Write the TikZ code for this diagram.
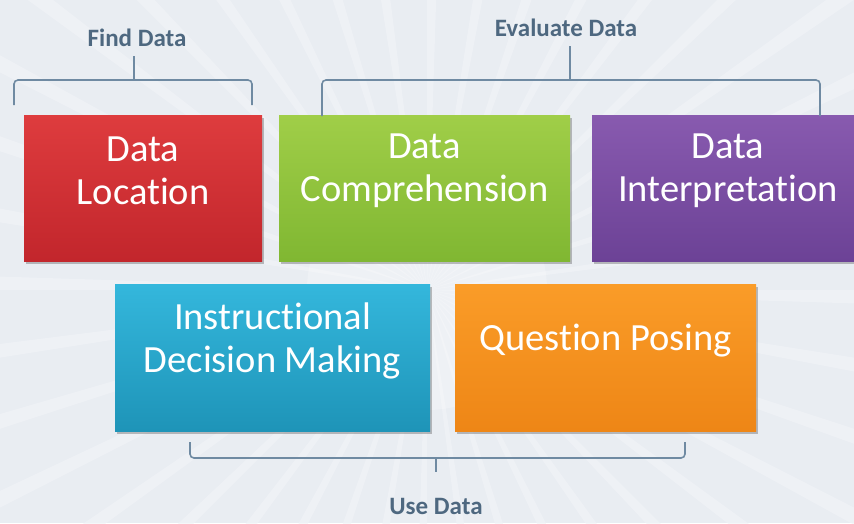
\documentclass[tikz,border=0pt]{standalone}
\usepackage{fontspec}
\setmainfont{Carlito}[Ligatures=NoCommon]
\usetikzlibrary{shadows}
\definecolor{bgc}{HTML}{E9EDF2}
\definecolor{rayc}{HTML}{F1F3F7}
\definecolor{brc}{HTML}{6F8AA2}
\definecolor{lblc}{HTML}{4E6880}
\tikzset{
  box/.style={minimum height=146pt, inner sep=0pt, draw=none,
    drop shadow={shadow xshift=2pt, shadow yshift=-3pt, opacity=0.35, fill=black!70}},
  boxtext/.style={text=white, font=\fontsize{38.5}{43}\selectfont, align=center, inner sep=0pt},
  lbl/.style={text=lblc, font=\fontsize{25}{30}\selectfont\bfseries, inner sep=0pt},
  brace/.style={draw=brc, line width=1.6pt, rounded corners=4pt}
}
\begin{document}
\begin{tikzpicture}[x=1pt,y=-1pt]
\useasboundingbox (0,0) rectangle (854,523);
\clip (0,0) rectangle (854,523);
\fill[bgc] (0,0) rectangle (854,523);
\foreach \a in {0,9,...,351}{
  \fill[rayc, opacity=0.7] (427,290) -- ++(\a:700) -- ++(\a+90:22) -- cycle;
}
\fill[white, opacity=0.25] (427,290) circle (120);
% boxes
\node[box, minimum width=238pt, top color={rgb,255:red,222;green,60;blue,62}, bottom color={rgb,255:red,194;green,38;blue,44}] (loc) at (143,188) {};
\node[box, minimum width=291pt, top color={rgb,255:red,160;green,206;blue,72}, bottom color={rgb,255:red,128;green,183;blue,50}] (comp) at (424.5,188) {};
\node[box, minimum width=272pt, top color={rgb,255:red,136;green,90;blue,175}, bottom color={rgb,255:red,108;green,66;blue,150}] (interp) at (728,188) {};
\node[box, minimum width=315pt, minimum height=147pt, top color={rgb,255:red,52;green,183;blue,220}, bottom color={rgb,255:red,30;green,148;blue,184}] (idm) at (272.5,357.5) {};
\node[box, minimum width=301pt, minimum height=147pt, top color={rgb,255:red,250;green,156;blue,40}, bottom color={rgb,255:red,238;green,134;blue,22}] (qp) at (605.5,357.5) {};
% texts
\node[boxtext] (locT) at ([yshift=17pt]loc.center) {Data\\Location};
\node[boxtext] (compT) at ([yshift=17pt]comp.center) {Data\\Comprehension};
\node[boxtext] (interpT) at ([yshift=17pt]interp.center) {Data\\Interpretation};
\node[boxtext] (idmT) at ([yshift=17pt]idm.center) {Instructional\\Decision Making};
\node[boxtext] (qpT) at ([yshift=17pt]qp.center) {Question Posing};
% labels
\node[lbl] (find) at (137,38) {Find Data};
\node[lbl] (eval) at (566,28) {Evaluate Data};
\node[lbl] (use) at (436,506) {Use Data};
% brackets
\coordinate (f1) at (14,105); \coordinate (f2) at (252,105); \coordinate (fm) at (134,56);
\draw[brace] (f1) -- (14,80) -- (252,80) -- (f2);
\draw[brc, line width=1.6pt] (134,80) -- (fm);
\coordinate (e1) at (322,116); \coordinate (e2) at (820,116); \coordinate (em) at (570,46);
\draw[brace] (e1) -- (322,80) -- (820,80) -- (e2);
\draw[brc, line width=1.6pt] (570,80) -- (em);
\coordinate (u1) at (190,442); \coordinate (u2) at (685,442); \coordinate (um) at (436,472);
\draw[brace] (u1) -- (190,458) -- (685,458) -- (u2);
\draw[brc, line width=1.6pt] (436,458) -- (um);
\end{tikzpicture}
\end{document}
